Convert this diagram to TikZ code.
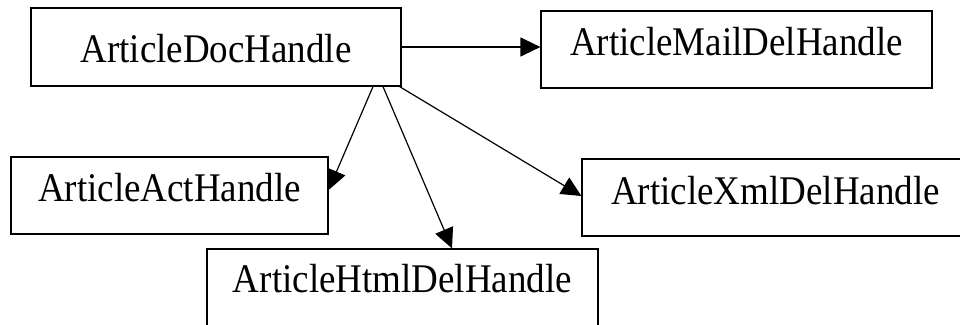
\documentclass[tikz,border=0pt]{standalone}
\usepackage{fontspec}
\usepackage{graphicx}
\setmainfont{Liberation Serif}
\usetikzlibrary{arrows.meta,calc}

% class names are set slightly taller than wide
\newcommand{\classname}[1]{\scalebox{1}[1.1]{#1}}

\begin{document}
\begin{tikzpicture}[x=1pt,y=-1pt,
  classbox/.style={draw, line width=1.2pt, rectangle, inner sep=0pt,
    font=\fontsize{37}{40}\selectfont, anchor=base},
  link/.style={line width=1.2pt, -{Triangle[length=20pt,width=19pt]}}]
  \useasboundingbox (0,0) rectangle (960,324);

  % class boxes: placed by text baseline, sized by text height/depth
  \node[classbox, minimum width=370pt, text height=54pt, text depth=24pt]
    (doc) at (216,62) {\classname{ArticleDocHandle}};
  \node[classbox, minimum width=391pt, text height=44.5pt, text depth=32.5pt]
    (mail) at (736.5,55.5) {\classname{ArticleMailDelHandle}};
  \node[classbox, minimum width=317pt, text height=44.5pt, text depth=32.5pt]
    (act) at (169.5,201.5) {\classname{ArticleActHandle}};
  \node[classbox, minimum width=387pt, text height=45pt, text depth=32pt]
    (xml) at (775.5,204) {\classname{ArticleXmlDelHandle}};
  \node[classbox, minimum width=391pt, text height=43pt, text depth=34pt]
    (html) at (402.5,292) {\classname{ArticleHtmlDelHandle}};

  % dependencies
  \draw[link] (doc.east) -- (doc.east -| mail.west);
  \draw[link] ([xshift=157pt]doc.south) -- ([yshift=5.5pt]act.east);
  \draw[link] ([xshift=167pt]doc.south) -- ([xshift=49.5pt]html.north);
  \draw[link] ([xshift=-2pt]doc.south east) -- ([yshift=1.5pt]xml.west);
\end{tikzpicture}
\end{document}
